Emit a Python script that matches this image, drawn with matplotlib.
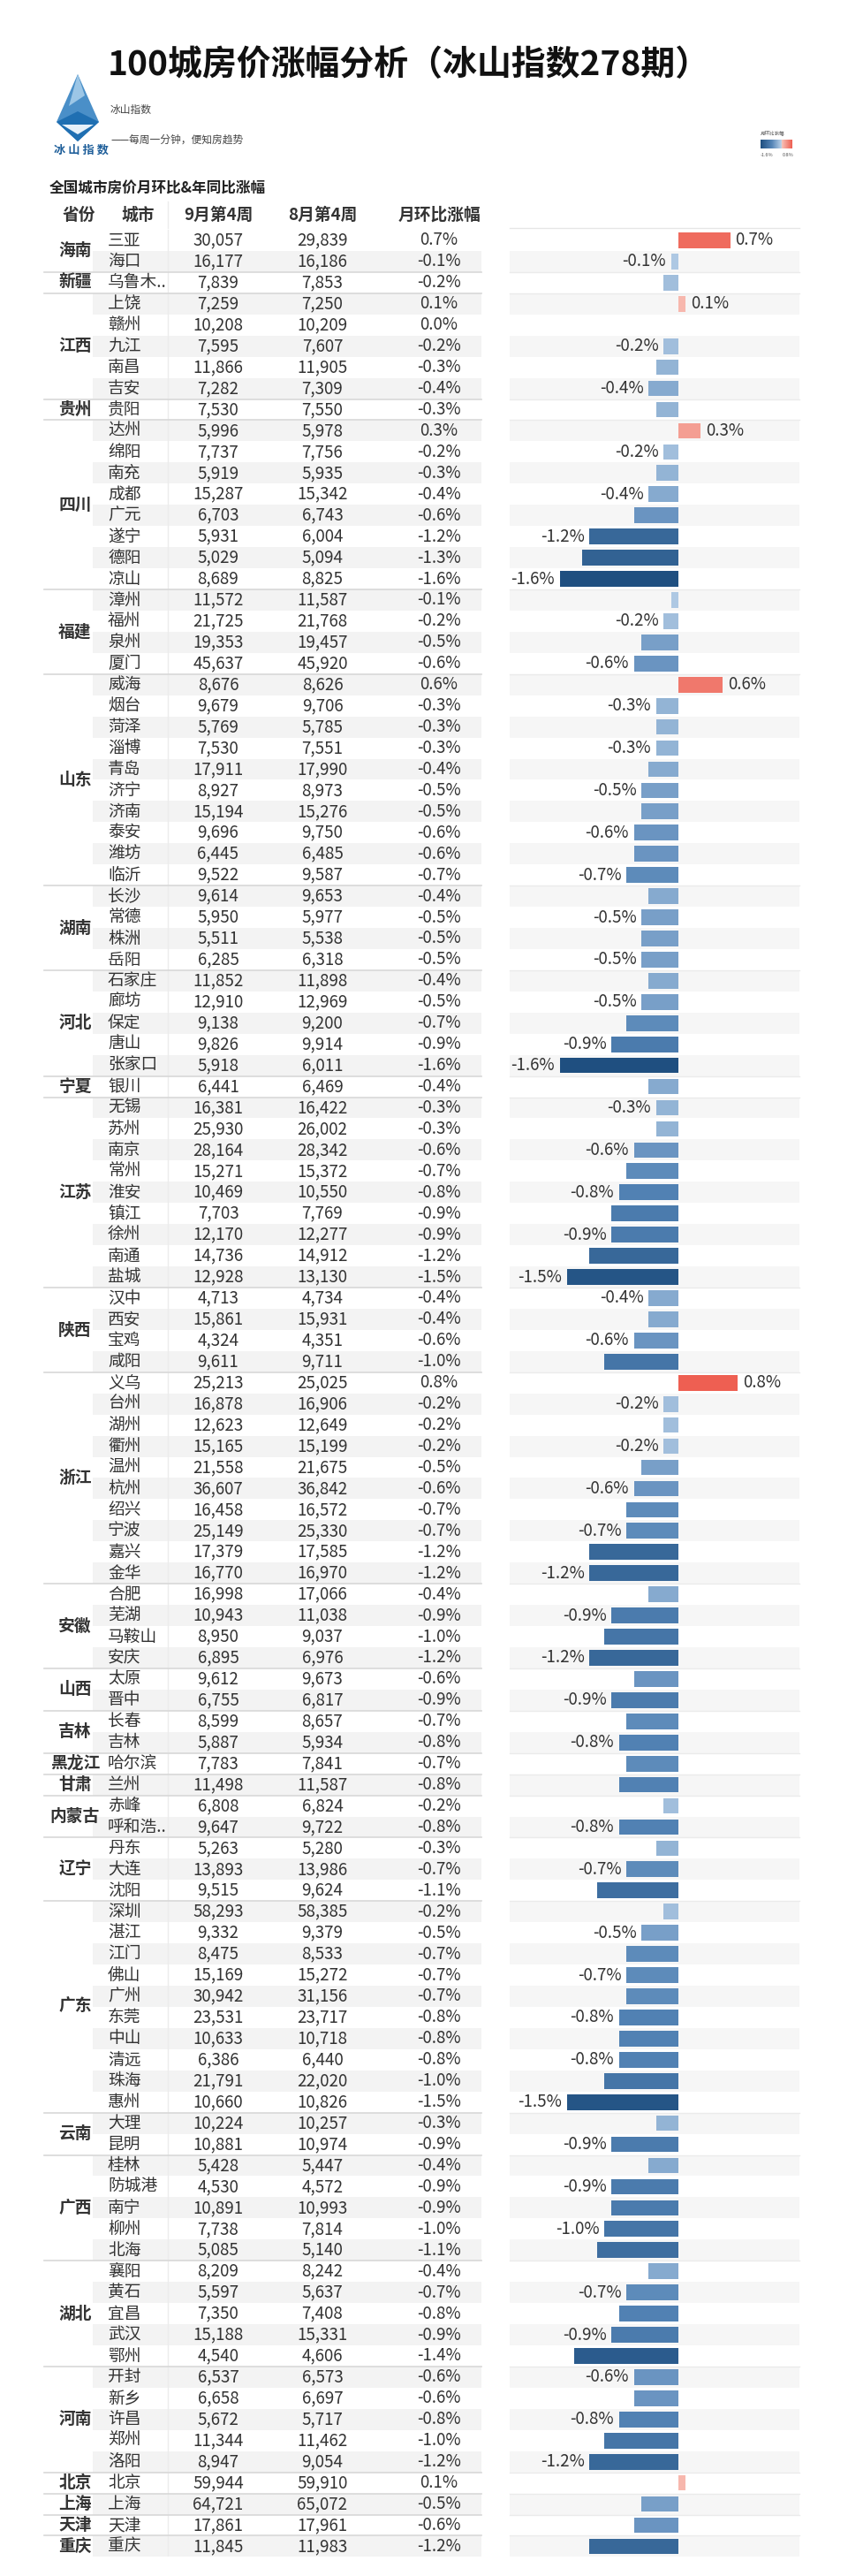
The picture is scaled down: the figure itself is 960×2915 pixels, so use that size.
import matplotlib.pyplot as plt
from matplotlib.colors import LinearSegmentedColormap, Normalize
from matplotlib.patches import Polygon
import numpy as np

plt.rcParams['font.family'] = ['Noto Sans CJK SC', 'DejaVu Sans']

# ---- data ----
provinces = [('海南', 2), ('新疆', 1), ('江西', 5), ('贵州', 1), ('四川', 8), ('福建', 4),
             ('山东', 10), ('湖南', 4), ('河北', 5), ('宁夏', 1), ('江苏', 9), ('陕西', 4),
             ('浙江', 10), ('安徽', 4), ('山西', 2), ('吉林', 2), ('黑龙江', 1), ('甘肃', 1),
             ('内蒙古', 2), ('辽宁', 3), ('广东', 10), ('云南', 2), ('广西', 5), ('湖北', 5),
             ('河南', 5), ('北京', 1), ('上海', 1), ('天津', 1), ('重庆', 1)]
cities = ['三亚', '海口', '乌鲁木..', '上饶', '赣州', '九江', '南昌', '吉安', '贵阳',
          '达州', '绵阳', '南充', '成都', '广元', '遂宁', '德阳', '凉山',
          '漳州', '福州', '泉州', '厦门',
          '威海', '烟台', '菏泽', '淄博', '青岛', '济宁', '济南', '泰安', '潍坊', '临沂',
          '长沙', '常德', '株洲', '岳阳',
          '石家庄', '廊坊', '保定', '唐山', '张家口', '银川',
          '无锡', '苏州', '南京', '常州', '淮安', '镇江', '徐州', '南通', '盐城',
          '汉中', '西安', '宝鸡', '咸阳',
          '义乌', '台州', '湖州', '衢州', '温州', '杭州', '绍兴', '宁波', '嘉兴', '金华',
          '合肥', '芜湖', '马鞍山', '安庆', '太原', '晋中', '长春', '吉林', '哈尔滨', '兰州',
          '赤峰', '呼和浩..', '丹东', '大连', '沈阳',
          '深圳', '湛江', '江门', '佛山', '广州', '东莞', '中山', '清远', '珠海', '惠州',
          '大理', '昆明', '桂林', '防城港', '南宁', '柳州', '北海',
          '襄阳', '黄石', '宜昌', '武汉', '鄂州', '开封', '新乡', '许昌', '郑州', '洛阳',
          '北京', '上海', '天津', '重庆']
sep_w4 = [30057, 16177, 7839, 7259, 10208, 7595, 11866, 7282, 7530,
          5996, 7737, 5919, 15287, 6703, 5931, 5029, 8689,
          11572, 21725, 19353, 45637,
          8676, 9679, 5769, 7530, 17911, 8927, 15194, 9696, 6445, 9522,
          9614, 5950, 5511, 6285,
          11852, 12910, 9138, 9826, 5918, 6441,
          16381, 25930, 28164, 15271, 10469, 7703, 12170, 14736, 12928,
          4713, 15861, 4324, 9611,
          25213, 16878, 12623, 15165, 21558, 36607, 16458, 25149, 17379, 16770,
          16998, 10943, 8950, 6895, 9612, 6755, 8599, 5887, 7783, 11498,
          6808, 9647, 5263, 13893, 9515,
          58293, 9332, 8475, 15169, 30942, 23531, 10633, 6386, 21791, 10660,
          10224, 10881, 5428, 4530, 10891, 7738, 5085,
          8209, 5597, 7350, 15188, 4540, 6537, 6658, 5672, 11344, 8947,
          59944, 64721, 17861, 11845]
aug_w4 = [29839, 16186, 7853, 7250, 10209, 7607, 11905, 7309, 7550,
          5978, 7756, 5935, 15342, 6743, 6004, 5094, 8825,
          11587, 21768, 19457, 45920,
          8626, 9706, 5785, 7551, 17990, 8973, 15276, 9750, 6485, 9587,
          9653, 5977, 5538, 6318,
          11898, 12969, 9200, 9914, 6011, 6469,
          16422, 26002, 28342, 15372, 10550, 7769, 12277, 14912, 13130,
          4734, 15931, 4351, 9711,
          25025, 16906, 12649, 15199, 21675, 36842, 16572, 25330, 17585, 16970,
          17066, 11038, 9037, 6976, 9673, 6817, 8657, 5934, 7841, 11587,
          6824, 9722, 5280, 13986, 9624,
          58385, 9379, 8533, 15272, 31156, 23717, 10718, 6440, 22020, 10826,
          10257, 10974, 5447, 4572, 10993, 7814, 5140,
          8242, 5637, 7408, 15331, 4606, 6573, 6697, 5717, 11462, 9054,
          59910, 65072, 17961, 11983]
mom = [0.7, -0.1, -0.2, 0.1, 0.0, -0.2, -0.3, -0.4, -0.3,
       0.3, -0.2, -0.3, -0.4, -0.6, -1.2, -1.3, -1.6,
       -0.1, -0.2, -0.5, -0.6,
       0.6, -0.3, -0.3, -0.3, -0.4, -0.5, -0.5, -0.6, -0.6, -0.7,
       -0.4, -0.5, -0.5, -0.5,
       -0.4, -0.5, -0.7, -0.9, -1.6, -0.4,
       -0.3, -0.3, -0.6, -0.7, -0.8, -0.9, -0.9, -1.2, -1.5,
       -0.4, -0.4, -0.6, -1.0,
       0.8, -0.2, -0.2, -0.2, -0.5, -0.6, -0.7, -0.7, -1.2, -1.2,
       -0.4, -0.9, -1.0, -1.2, -0.6, -0.9, -0.7, -0.8, -0.7, -0.8,
       -0.2, -0.8, -0.3, -0.7, -1.1,
       -0.2, -0.5, -0.7, -0.7, -0.7, -0.8, -0.8, -0.8, -1.0, -1.5,
       -0.3, -0.9, -0.4, -0.9, -0.9, -1.0, -1.1,
       -0.4, -0.7, -0.8, -0.9, -1.4, -0.6, -0.6, -0.8, -1.0, -1.2,
       0.1, -0.5, -0.6, -1.2]
# bars whose value label is shown in the original
labeled = ['三亚', '海口', '上饶', '九江', '吉安', '达州', '绵阳', '成都', '遂宁', '凉山',
           '福州', '厦门', '威海', '烟台', '淄博', '济宁', '泰安', '临沂', '常德', '岳阳',
           '廊坊', '唐山', '张家口', '无锡', '南京', '淮安', '徐州', '盐城', '汉中', '宝鸡',
           '义乌', '台州', '衢州', '杭州', '宁波', '金华', '芜湖', '安庆', '晋中', '吉林',
           '呼和浩..', '大连', '湛江', '佛山', '东莞', '清远', '惠州', '昆明', '防城港',
           '柳州', '黄石', '武汉', '开封', '许昌', '洛阳']
headers = ['省份', '城市', '9月第4周', '8月第4周', '月环比涨幅']

n = len(cities)
W, H = 960, 2915
row_h = 23.94
top = 260

# diverging colours: blue for falls, coral for rises
cmap = LinearSegmentedColormap.from_list('rb', [(0, '#1f4f80'), (0.35, '#5484b6'),
                                               (0.6666, '#bcd3ea'), (0.6667, '#f8c4ba'),
                                               (1, '#ee5f52')])
norm = Normalize(-1.6, 0.8)

fig = plt.figure(figsize=(W / 100, H / 100), dpi=100)
ax0 = fig.add_axes([0, 0, 1, 1])
ax0.set_xlim(0, W)
ax0.set_ylim(H, 0)
ax0.axis('off')

# ---- header ----
ax0.text(463, 74, '100城房价涨幅分析（冰山指数278期）', ha='center', va='center',
         fontsize=28, fontweight='bold', color='#111111')
# iceberg logo
ax0.add_patch(Polygon([(88, 84), (64, 138), (88, 160), (112, 138)], closed=True,
                      color='#4a8fc8', lw=0))
ax0.add_patch(Polygon([(88, 84), (78, 120), (96, 108)], closed=True, color='#9cc6e6', lw=0))
ax0.add_patch(Polygon([(64, 138), (88, 126), (112, 138), (88, 160)], closed=True,
                      color='#1f6fb2', lw=0))
ax0.add_patch(Polygon([(70, 141), (106, 141), (88, 152)], closed=True, color='#e6f1fa', lw=0))
ax0.text(92, 170, '冰 山 指 数', ha='center', va='center', fontsize=9.5,
         fontweight='bold', color='#1f5f9a')
ax0.text(125, 124, '冰山指数', ha='left', va='center', fontsize=8.5, color='#444444')
ax0.text(125, 158, '——每周一分钟，便知房趋势', ha='left', va='center', fontsize=8.5,
         color='#444444')

# colour legend
ax0.text(861, 150, '月环比涨幅', ha='left', va='center', fontsize=4, color='#555555')
axl = fig.add_axes([861 / W, 1 - 168 / H, 36 / W, 10 / H])
axl.imshow(np.linspace(-1.6, 0.8, 200)[None, :], cmap=cmap, norm=norm, aspect='auto')
axl.axis('off')
ax0.text(861, 175, '-1.6%', ha='left', va='center', fontsize=4, color='#555555')
ax0.text(898, 175, '0.8%', ha='right', va='center', fontsize=4, color='#555555')

ax0.text(56, 214, '全国城市房价月环比&年同比涨幅', ha='left', va='center', fontsize=12,
         fontweight='bold', color='#222222')
hx = [89, 156, 247, 365, 497]
for x, t in zip(hx, headers):
    ax0.text(x, 243, t, ha='center', va='center', fontsize=13.5, fontweight='bold',
             color='#333333')
ax0.plot([190, 190], [228, 258], color='#ececec', lw=1)
ax0.plot([577, 905], [258, 258], color='#e6e6e6', lw=1)

# ---- table ----
bottom = H - (top + n * row_h)
ax_t = fig.add_axes([0, bottom / H, 1, n * row_h / H])
ax_t.set_xlim(0, W)
ax_t.set_ylim(n - 0.5, -0.5)
ax_t.axis('off')
odd = np.arange(1, n, 2)
ax_t.barh(odd, 545 - 105, left=105, height=1, color='#f3f3f3', lw=0)
ax_t.barh(odd, 905 - 577, left=577, height=1, color='#f6f6f6', lw=0)
ax_t.plot([190, 190], [-0.5, n - 0.5], color='#ececec', lw=1)

start = 0
for prov, cnt in provinces:
    mid = start + (cnt - 1) / 2
    ax_t.text(85, mid, prov, ha='center', va='center', fontsize=13.5, fontweight='bold',
              color='#333333')
    end = start + cnt
    if end < n:
        ax_t.plot([50, 545], [end - 0.5, end - 0.5], color='#d8d8d8', lw=1.2)
        ax_t.plot([577, 905], [end - 0.5, end - 0.5], color='#ebebeb', lw=1)
    start = end

for i in range(n):
    ax_t.text(122, i, cities[i], ha='left', va='center', fontsize=13.5, color='#333333')
    ax_t.text(247, i, f'{sep_w4[i]:,}', ha='center', va='center', fontsize=13.5,
              color='#333333')
    ax_t.text(365, i, f'{aug_w4[i]:,}', ha='center', va='center', fontsize=13.5,
              color='#333333')
    ax_t.text(497, i, f'{mom[i]:.1f}%', ha='center', va='center', fontsize=13.5,
              color='#333333')

# ---- bars ----
zero_px, px_per = 768, 84
ax_b = fig.add_axes([577 / W, bottom / H, 328 / W, n * row_h / H])
ax_b.set_xlim((577 - zero_px) / px_per, (905 - zero_px) / px_per)
ax_b.set_ylim(n - 0.5, -0.5)
ax_b.axis('off')
ax_b.barh(np.arange(n), mom, height=0.74, color=cmap(norm(np.array(mom))), lw=0)
for i, v in enumerate(mom):
    if cities[i] in labeled:
        ax_b.annotate(f'{v:.1f}%', (v, i), xytext=(-4 if v < 0 else 4, 0),
                      textcoords='offset points', ha='right' if v < 0 else 'left',
                      va='center', fontsize=13.5, color='#333333')

fig.savefig('out.png', dpi=100, facecolor='white')
